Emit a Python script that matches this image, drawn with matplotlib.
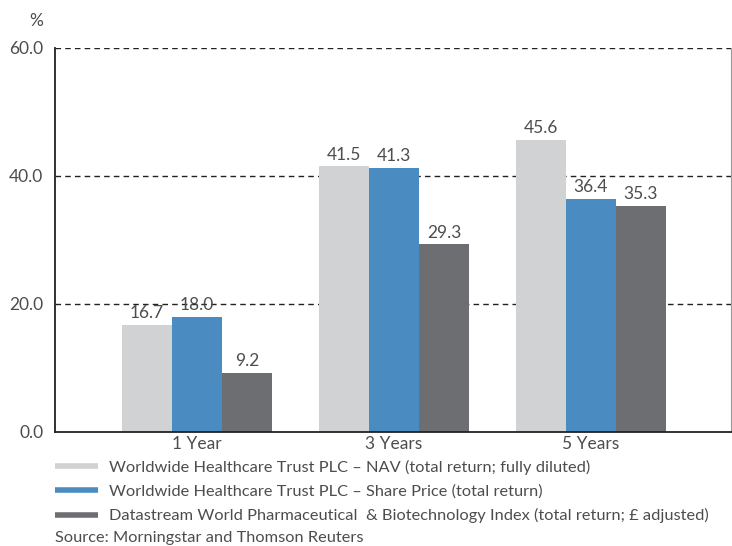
import numpy as np
import matplotlib.pyplot as plt
from matplotlib.lines import Line2D

plt.rcParams['font.family'] = ['Lato', 'DejaVu Sans']

periods = ["1 Year", "3 Years", "5 Years"]
nav = [16.7, 41.5, 45.6]
share_price = [18.0, 41.3, 36.4]
index_vals = [9.2, 29.3, 35.3]
series_names = [
    "Worldwide Healthcare Trust PLC \u2013 NAV (total return; fully diluted)",
    "Worldwide Healthcare Trust PLC \u2013 Share Price (total return)",
    "Datastream World Pharmaceutical  & Biotechnology Index (total return; \u00a3 adjusted)",
]
colors = ["#d1d2d4", "#4a8bc1", "#6d6e71"]
yticks = [0, 20, 40, 60]
source = "Source: Morningstar and Thomson Reuters"

txt = "#4d4d4d"
fs = 11.8

fig = plt.figure(figsize=(7.32, 5.46), dpi=100)
ax = fig.add_axes([55 / 732, 1 - 432 / 546, 676 / 732, 384 / 546])

x = np.arange(len(periods))
w = 0.254
for i, vals in enumerate([nav, share_price, index_vals]):
    pos = x + (i - 1) * w
    ax.bar(pos, vals, w, color=colors[i], zorder=2)
    for p, v in zip(pos, vals):
        ax.text(p, v + 0.6, f"{v:.1f}", ha="center", va="bottom",
                fontsize=12.5, color=txt)

ax.set_xlim(-0.721, 2.711)
ax.set_ylim(0, 60)
ax.set_xticks(x)
ax.set_xticklabels(periods, fontsize=12.5, color=txt)
ax.set_yticks(yticks)
ax.set_yticklabels([f"{t:.1f}" for t in yticks], fontsize=12.5, color=txt)
ax.tick_params(length=0, pad=3)
ax.tick_params(axis="y", pad=8.5)

for t in yticks[1:]:
    ax.axhline(t, color="#222222", lw=1, ls=(0, (4, 3)), zorder=1)

ax.spines["top"].set_visible(False)
ax.spines["left"].set_color("#222222")
ax.spines["bottom"].set_color("#222222")
ax.spines["left"].set_linewidth(1.3)
ax.spines["bottom"].set_linewidth(1.3)
ax.spines["right"].set_color("#999999")
ax.spines["right"].set_linewidth(0.8)

fig.text(36 / 732, 1 - 21 / 546, "%", ha="center", va="center",
         fontsize=12.5, color=txt)

handles = [Line2D([0], [0], color=c, lw=4, solid_capstyle="butt") for c in colors]
fig.legend(handles, series_names, loc="upper left",
           bbox_to_anchor=(55 / 732, 1 - 460 / 546), frameon=False,
           fontsize=fs, labelcolor=txt, handlelength=2.6, handletextpad=0.72,
           labelspacing=0.57, borderpad=0, borderaxespad=0)

fig.text(55 / 732, 1 - 538 / 546, source, ha="left", va="center",
         fontsize=fs, color=txt)

fig.savefig("out.png", dpi=100)
